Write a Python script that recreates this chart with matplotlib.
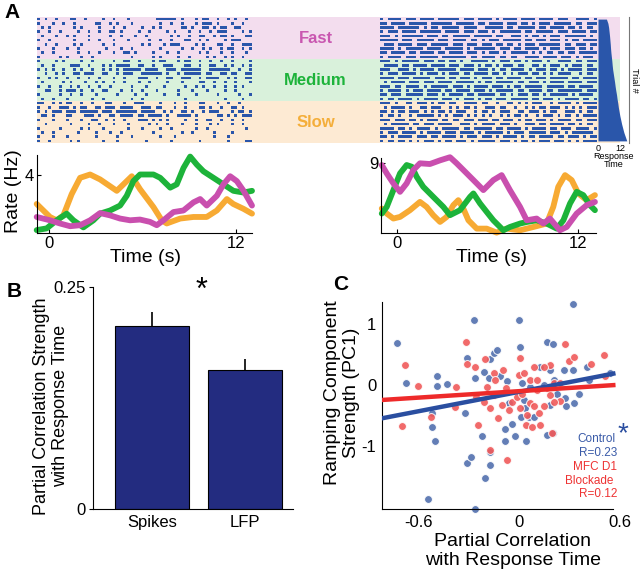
# Figura: raster, tasas de disparo, barras y dispersión
import numpy as np
import matplotlib.pyplot as plt

plt.rcParams['font.family'] = ['Liberation Sans', 'DejaVu Sans']

W, H = 640, 574

# ---------------- Datos ----------------
# Raster izquierdo (neurona 1): '#' = spike, 30 ensayos x 60 bins
rasterIzq = [
    "#.#..#...##..#....#..#...#.......######.#...#.##..#..#.#..#.",
    "#...#..#..#.....##..#.#...#.......#..#..#...#.###.#...#..#..",
    ".#.#......#.#....#...#..#....#..#.#.....##.#..##.#.##..##...",
    "#..#..#....#..#..#..##.#....#..#....#.#...#..#..#.###....#.#",
    ".#...#..#.#...#.....#..#...#..#......#.#..#..##..#.##.#...##",
    "#..#......#...#..#...#...#.....#..#..#...##..#.#....#.###...",
    "..#..#....#.#.....#..#.......#.#...#.###....#.#...##..#..###",
    "#...#...#..#.......#...#..#.......#.....#..#..#.#..#.##..#.#",
    ".#..#......#..#..#...#..##.#....#...#..#.....#.#...#..#...#.",
    "#.....#.#...#..#..........#.....#.#....#..#....#.#..#.#..#..",
    "#....#.#....#..#.....#..##..#...#.##...#.##..#..#..#..#....#",
    ".#..#....###..#...#.#.####..##..#..###...##..#..##..#.#..#.#",
    "#.#.#..#..#.#..#..#.#.#.#####.####..###.######..######..#..#",
    "..#..#.#..##.###..##..#.###..######.#..#.#####.##..##.##..##",
    "#..#.#..#..#..#..#...#..#...###..#..##..###..#.####..#.#..##",
    ".#.....#.#...#..#.#..#..#...#..#....#...#....##..#..#..#...#",
    "#..#..#..#.#..#..#..#.....#...#....#.....#..#.#..#..#..#.#..",
    "..##..#.###.#..#..##...#..#..#...#.....#...#...#....#..#....",
    "#.....#..#..#...#.....#....#..#....#...#....#.....#.....#..#.",
    ".#..#...#......#..#.......#..#...........#..........#....#..",
    "##..#.#.##..#..#...##...#..###....#...#..#...##...#..#..#...",
    "#..#..###.#.##..##.###.####..###.##...#..#...##.#..#..##.#..",
    "#.#.###.###.#####.###.######.####..#.#..##.#..#.###...#.##.#",
    ".##.#...##...###.#..##.####.##.####.#..####.#.....##.#.#.###",
    "#...#...#...#..##..#.#..#...###.#.#.#....#..#..##..#..#..#..",
    "..#......#....#..#...#...#.....#.#..#...#...#...#.#...#..#..",
    "#.....#.....#.#...#......#...#....#..#......#..#..........#.",
    ".#..#......#....#...#..#........#.......#..#.....#....#.....",
    "#...#...#.......#.....#...#.......#...#..........#...#......",
    "#..#.....#.#......#...#.......#......#.......#.......#....##",
]

# Raster derecho (neurona 2)
rasterDer = [
    "#.####.###.####.######.###.####.#.####.####.####.###..####.#",
    "##.####.#####.######.#####.##.####.###.##.#.###.#####.##.###",
    "####.######.#.##.#####.####..#####.##.#####.##.####.##.#.##.",
    "#.###.####.######.####.###.###.#.######.##.#####.###.####.##",
    "###.#.######.###.##.#####.#####.##..###.#.##.#.###.######.#.",
    "#####.###.#####.###.####.##.#.###.#####.##.###.###.#.##.####",
    ".###.####.###.#####.###.###.###.##.##.#.###.######.##.###.##",
    "####.#.#####.####.#####.#.######.###.##.####.#.###.###.##.#.",
    "##.####.##.####.##.####.###.#.###.#.#####.#.#.##.##.##.#####",
    "#.####.###.#####.#######.##.####.##.##..####.####.###.#.###.",
    "###.#.#####.###.##.##.#..#####.#.###.##.#.###.#..####.##.###",
    ".####.##.####.####.###.###.#.##.#.###.##..##.#.###.#.###.##.",
    "###..###.#.####.#####.####.###.#.##.####.#.###.##.#.####.###",
    "#.###.####.#.###.#.###.##.####.##.#.#.###.##.#.#.####..#.##.",
    "####.###.#####.###.##.###.#.###.##.####.##.###.#####.##.####",
    ".#.####.###.###.####.#####.#.##.#####.##.###.#.####.####.###",
    "###.##.####.#.#####.###.#.####.###.#.##.#####.#####.##.####.",
    "#.####.#.###.####.##.####.###.#.#####.##.####.##.#######.###",
    "##.###.#####.###.#.####.##.#####.##.#.###.##.#.#####.#.####.",
    "#.##.####.#.####.###.#.###.#.##.###.#####.##.###.#.####.##.#",
    "###.#..##.###.#.##.##..####.##..#..##.#.#.###..#.####.#.####",
    ".#.####.#..##.###..#.#.##.#..###.##..#..#.#.##.###.#.#.#.###",
    "##.#.##.###.#.#.##.#.###..#.##.#.###..##.###.#.##..###.#.##.",
    "#.##.#..#.#####.#.#.###.#.#.#.#..#.#.##.#..#.###.#.##.#.####",
    "###.###.##.#.###.##.##.###.###.##.###.#.##.###.#.####.##.###",
    ".#.#####.##.###.####..###.#.####.###.#..###.##.####.##.#.##.",
    "####.##.#.####.#.#####.##.#####.##.####.#.####.##.###.####.#",
    "#.###.####.#.####.###.####.#.#####.#.###.#####.###.#.######.",
    "##.#.####.###.##.####.#.###.###.#.####.#.##.####.##.###.#.##",
    "#.##.##.#.#.###.#.##.###.#.#####.###.#.##.#.###.###.#.#.####",
]

# Tiempo de respuesta por ensayo (s), ordenado
tiempoRespuesta = [4.6, 5.4, 5.8, 6.05, 6.3, 6.5, 6.7, 6.85, 7.05, 7.3,
                   7.55, 7.75, 8.0, 8.35, 8.7, 9.05, 9.35, 9.7, 10.1, 10.4,
                   10.8, 11.1, 11.5, 11.9, 12.4, 12.9, 13.5, 14.1, 14.9, 15.7]

categorias = ['Fast', 'Medium', 'Slow']

# Tasas de disparo, neurona 1
t1Rapido = [-0.79, 0.06, 0.7, 1.35, 1.99, 2.63, 3.27, 3.91, 4.55, 5.19, 5.83, 6.47,
            6.9, 7.33, 7.97, 8.61, 9.25, 9.68, 10.1, 10.75, 11.17, 11.6, 12.03, 12.46, 13.0]
r1Rapido = [1.11, 0.88, 0.66, 0.47, 0.54, 0.88, 1.38, 1.22, 1.0, 0.88, 0.93, 0.77,
            0.54, 0.88, 1.45, 1.56, 2.12, 2.35, 1.9, 2.58, 3.37, 3.93, 3.59, 2.92, 1.9]
t1Medio = [-0.79, -0.15, 0.49, 1.13, 1.56, 2.2, 2.84, 3.27, 3.91, 4.55, 4.98, 5.4, 5.83,
           6.69, 7.12, 7.76, 8.18, 8.61, 9.04, 9.47, 9.89, 10.53, 11.17, 11.81, 12.46, 13.0]
r1Medio = [0.2, 0.32, 0.88, 1.34, 0.88, 0.39, 0.88, 1.34, 1.56, 1.9, 2.58, 3.59, 4.05,
           4.05, 3.82, 3.14, 3.37, 4.5, 5.29, 4.73, 4.27, 3.82, 3.37, 2.92, 2.8, 2.92]
t1Lento = [-0.79, 0.06, 0.49, 0.92, 1.45, 1.99, 2.63, 3.27, 4.34, 5.3, 5.83, 6.69,
           7.22, 7.54, 8.4, 9.25, 10.1, 10.75, 11.39, 11.8, 12.46, 13.0]
r1Lento = [2.01, 1.11, 0.88, 1.22, 2.69, 3.82, 4.05, 3.71, 2.92, 3.93, 3.03, 1.79,
           0.88, 0.66, 1.0, 1.11, 1.11, 1.56, 2.35, 2.01, 1.67, 1.34]

# Tasas de disparo, neurona 2
t2Rapido = [-0.99, -0.66, -0.22, 0.22, 0.66, 1.1, 1.54, 2.2, 2.87, 3.53, 3.97, 4.64,
            5.3, 5.74, 6.4, 6.95, 7.5, 8.17, 8.61, 9.27, 9.71, 10.15, 10.81, 11.26,
            11.92, 12.58, 13.13]
r2Rapido = [8.7, 7.63, 6.35, 5.27, 6.35, 8.06, 8.92, 8.83, 9.3, 9.7, 8.92, 7.63,
            6.35, 5.49, 6.77, 7.41, 5.49, 3.34, 1.63, 1.85, 1.21, 1.85, 0.35, 0.77,
            2.49, 3.56, 3.98]
t2Medio = [-0.99, -0.66, -0.22, 0.22, 0.66, 1.0, 1.32, 1.76, 2.42, 3.09, 3.53, 4.19,
           4.86, 5.08, 5.52, 5.96, 6.4, 7.06, 7.5, 8.17, 8.61, 9.27, 9.93, 10.6,
           11.04, 11.48, 11.92, 12.36, 12.8, 13.13]
r2Medio = [2.49, 3.34, 5.49, 7.63, 8.7, 8.48, 7.2, 5.91, 4.63, 3.34, 2.28, 2.92,
           4.63, 5.06, 3.78, 2.7, 1.63, 0.35, 0.77, 1.21, 1.41, 1.63, 1.21, 0.56,
           1.63, 3.78, 5.27, 4.85, 3.56, 2.92]
t2Lento = [-0.99, -0.66, -0.22, 0.22, 0.88, 1.54, 1.98, 2.42, 2.87, 3.31, 3.75, 4.08,
           4.41, 4.75, 5.3, 5.96, 6.62, 7.28, 8.17, 9.05, 9.93, 10.37, 10.7, 11.15,
           11.59, 12.03, 12.58, 13.13]
r2Lento = [3.13, 2.49, 1.85, 2.06, 2.92, 3.98, 3.34, 2.28, 1.42, 2.06, 3.56, 4.2,
           3.13, 1.63, 0.56, 0.56, 0.05, 0.56, 0.35, 0.77, 1.21, 3.34, 5.91, 7.41,
           6.77, 5.06, 4.2, 4.85]

# Panel B
señales = ['Spikes', 'LFP']
correlacionParcial = [0.206, 0.157]
errorEstandar = [0.016, 0.012]

# Panel C
controlX = [-0.728, -0.679, -0.49, -0.49, -0.435, -0.52, -0.52, -0.504, -0.546, -0.272,
            -0.311, -0.268, -0.327, -0.315, -0.288, -0.268, -0.212, -0.183, -0.173, -0.222,
            -0.173, -0.173, -0.208, -0.153, -0.133, -0.113, -0.073, -0.089, -0.087, -0.044,
            -0.064, -0.004, 0.006, 0.016, 0.026, 0.036, -0.024, 0.04, 0.01, 0.058,
            0.085, 0.065, 0.125, 0.145, 0.165, 0.2, 0.185, 0.204, 0.185, 0.165,
            0.2, 0.224, 0.264, 0.274, 0.28, 0.317, 0.319, 0.353, 0.323, 0.403,
            0.413, 0.542]
controlY = [0.69, 0.03, 0.14, -0.02, 0.02, -0.45, -0.68, -0.91, -1.87, 1.06,
            0.44, 0.11, -0.46, -1.27, -1.18, -2.03, 0.22, 0.11, 0.42, -0.84,
            -1.09, -1.31, -1.52, 0.52, 0.57, 0.14, 0.07, -0.72, -0.91, -0.63,
            -0.30, 1.06, 0.63, 0.03, -0.25, -0.38, -0.83, -0.92, -0.52, -0.52,
            -0.52, -0.03, 0.30, 0.0, 0.71, 0.67, 0.25, 0.08, -0.33, -0.82,
            -0.79, -0.14, 0.25, -0.22, -0.35, 1.32, 0.25, -0.14, -0.30, 0.30,
            0.08, 0.19]
bloqueoX = [-0.698, -0.682, -0.605, -0.53, -0.381, -0.317, -0.311, -0.385, -0.268, -0.262,
            -0.248, -0.208, -0.192, -0.153, -0.212, -0.143, -0.173, -0.153, -0.097, -0.083,
            -0.127, -0.103, -0.044, -0.073, -0.014, 0.0, 0.002, 0.006, 0.016, 0.03,
            0.04, 0.065, 0.061, 0.085, 0.105, 0.105, 0.085, 0.117, 0.077, 0.145,
            0.165, 0.125, 0.185, 0.185, 0.204, 0.194, 0.244, 0.274, 0.244, 0.294,
            0.323, 0.427, 0.502, 0.508, -0.173, -0.064, 0.046, 0.145, 0.204]
bloqueoY = [-0.67, 0.33, -0.02, -0.52, -0.03, 0.70, 0.34, -0.36, 0.30, -0.19,
            -0.66, 0.42, -0.04, 0.19, -0.27, 0.08, -0.38, -0.16, 0.25, -0.05,
            -0.54, -0.33, -0.27, -1.23, -0.19, 0.16, 0.45, -0.38, -0.14, 0.19,
            -0.65, 0.08, -0.30, 0.30, 0.08, -0.08, -0.35, -0.46, -0.68, -0.35,
            -0.05, -0.65, 0.33, -0.16, 0.03, -0.79, 0.03, 0.67, -0.26, 0.40,
            0.46, 0.34, 0.49, 0.15, -1.06, -0.41, -0.49, 0.30, -0.27]
pendienteControl, interceptoControl = 0.53, -0.11
pendienteBloqueo, interceptoBloqueo = 0.176, -0.10

# ---------------- Estilo ----------------
colorSpike = '#2A56AA'
coloresFondo = ['#F3DDEE', '#D9F1DB', '#FDEAD3']
coloresTexto = ['#C957B0', '#1DB33A', '#F4AE3A']
colorRapido, colorMedio, colorLento = '#C94FAE', '#1DB33A', '#F7AA33'
colorBarra = '#232C80'
azulControl, rojoBloqueo = '#2A4EA0', '#EE2A2A'


def caja(x0, y0, x1, y1):
    return [x0 / W, 1 - y1 / H, (x1 - x0) / W, (y1 - y0) / H]


def pos(x, y):
    return x / W, 1 - y / H


def trazarRaster(ax, filas):
    for i, fila in enumerate(filas):
        tramos = []
        j = 0
        while j < len(fila):
            if fila[j] == '#':
                k = j
                while k < len(fila) and fila[k] == '#':
                    k += 1
                tramos.append((j + 0.1, k - j - 0.2))
                j = k
            else:
                j += 1
        ax.broken_barh(tramos, (i + 0.2, 0.6), facecolors=colorSpike)
    ax.set_xlim(0, 60)
    ax.set_ylim(len(filas), 0)
    ax.axis('off')


def trazarTasas(ax, curvas, xlim, ylim, ytick):
    for t, r, c in curvas:
        ax.plot(t, r, color=c, lw=4.2, solid_capstyle='round', solid_joinstyle='round',
                clip_on=False)
    ax.set_xlim(*xlim)
    ax.set_ylim(*ylim)
    ax.set_xticks([0, 12])
    ax.set_yticks([ytick])
    ax.tick_params(labelsize=12, length=3, direction='in', pad=2)
    for lado in ['top', 'right']:
        ax.spines[lado].set_visible(False)
    ax.spines['left'].set_bounds(0, ylim[1])


fig = plt.figure(figsize=(W / 100, H / 100), dpi=100)

# ---------------- Panel A ----------------
axFondo = fig.add_axes(caja(37, 17, 620, 143))
for i, c in enumerate(coloresFondo):
    axFondo.axhspan(i * 10, (i + 1) * 10, color=c, lw=0)
axFondo.set_xlim(0, 1)
axFondo.set_ylim(30, 0)
axFondo.axis('off')
for i, (nombre, c) in enumerate(zip(categorias, coloresTexto)):
    axFondo.text(0.478, i * 10 + 5.2, nombre, color=c, fontsize=12, fontweight='bold',
                 ha='center', va='center')

axR1 = fig.add_axes(caja(37, 17, 252, 143))
trazarRaster(axR1, rasterIzq)
axR2 = fig.add_axes(caja(380, 17, 597, 143))
trazarRaster(axR2, rasterDer)

axRT = fig.add_axes(caja(598, 17, 629, 143))
filas = np.arange(len(tiempoRespuesta)) + 0.5
axRT.fill_betweenx(filas, 0, tiempoRespuesta, color=colorSpike, lw=0)
axRT.set_xlim(0, 16.9)
axRT.set_ylim(len(tiempoRespuesta), 0)
axRT.patch.set_alpha(0)
for lado in ['top', 'left', 'bottom']:
    axRT.spines[lado].set_visible(False)
axRT.spines['right'].set_color('#777777')
axRT.spines['right'].set_linewidth(0.8)
axRT.set_yticks([])
axRT.set_xticks([0, 12])
axRT.tick_params(axis='x', length=0, labelsize=6.5, pad=1)
axRT.set_xlabel('Response\nTime', fontsize=6.5, labelpad=-1, linespacing=0.9)
axRT.yaxis.set_label_position('right')
axRT.set_ylabel('Trial #', fontsize=6.5, rotation=270, labelpad=7)

axT1 = fig.add_axes(caja(37, 155, 252, 233))
trazarTasas(axT1, [(t1Lento, r1Lento, colorLento), (t1Medio, r1Medio, colorMedio),
                   (t1Rapido, r1Rapido, colorRapido)], (-0.77, 13.0), (0, 5.4), 4)
axT2 = fig.add_axes(caja(381, 158, 596, 233))
trazarTasas(axT2, [(t2Lento, r2Lento, colorLento), (t2Medio, r2Medio, colorMedio),
                   (t2Rapido, r2Rapido, colorRapido)], (-1.04, 13.2), (0, 9.6), 9)

fig.text(*pos(146, 257), 'Time (s)', fontsize=14, ha='center', va='center')
fig.text(*pos(491, 257), 'Time (s)', fontsize=14, ha='center', va='center')
fig.text(*pos(14, 191), 'Rate (Hz)', fontsize=14, rotation=90, ha='center', va='center')

# ---------------- Panel B ----------------
axB = fig.add_axes(caja(93, 287, 293, 509))
xb = np.arange(1, len(señales) + 1)
axB.bar(xb, correlacionParcial, width=0.8, color=colorBarra, edgecolor='black', lw=0.8,
        yerr=[[0] * len(errorEstandar), errorEstandar], error_kw=dict(ecolor='black', lw=1.2, capsize=0))
axB.set_xlim(0.362, 2.524)
axB.set_ylim(0, 0.25)
axB.set_xticks(xb)
axB.set_xticklabels(señales)
axB.set_yticks([0, 0.25])
axB.set_yticklabels(['0', '0.25'])
axB.tick_params(axis='x', length=0, labelsize=12, pad=4)
axB.tick_params(axis='y', length=3, labelsize=12, pad=2)
for lado in ['top', 'right']:
    axB.spines[lado].set_visible(False)
fig.text(*pos(51, 406), 'Partial Correlation Strength\nwith Response Time', fontsize=13,
         rotation=90, ha='center', va='center')
fig.text(*pos(202, 291), '*', fontsize=22, ha='center', va='center')

# ---------------- Panel C ----------------
axC = fig.add_axes(caja(382, 302, 620, 509))
axC.scatter(controlX, controlY, s=32, color='#5B77B2', edgecolors='white', linewidths=0.7,
            alpha=0.95, zorder=2, clip_on=False)
axC.scatter(bloqueoX, bloqueoY, s=32, color='#F05A5A', edgecolors='white', linewidths=0.7,
            alpha=0.9, zorder=3, clip_on=False)
xr = np.array([-0.82, 0.56])
axC.plot(xr, pendienteControl * xr + interceptoControl, color=azulControl, lw=3.2, zorder=4)
axC.plot(xr, pendienteBloqueo * xr + interceptoBloqueo, color=rojoBloqueo, lw=3.2, zorder=5)
axC.set_xlim(-0.82, 0.6)
axC.set_ylim(-2.03, 1.36)
axC.set_xticks([-0.6, 0, 0.6])
axC.set_xticklabels(['-0.6', '0', '0.6'])
axC.set_yticks([-1, 0, 1])
axC.set_yticklabels(['-1', '0', '1'])
axC.tick_params(length=0, labelsize=12, pad=4)
for lado in ['top', 'right']:
    axC.spines[lado].set_visible(False)
axC.spines['bottom'].set_bounds(-0.82, 0.56)
fig.text(*pos(513, 551), 'Partial Correlation\nwith Response Time', fontsize=14,
         ha='center', va='center')
fig.text(*pos(342, 393), 'Ramping Component\nStrength (PC1)', fontsize=14,
         rotation=90, ha='center', va='center')
fig.text(*pos(615, 439), 'Control', fontsize=8.5, color='#3A5BA8', ha='right', va='center')
fig.text(*pos(617, 453), 'R=0.23', fontsize=8.5, color='#3A5BA8', ha='right', va='center')
fig.text(*pos(617, 467), 'MFC D1', fontsize=8.5, color='#EE3333', ha='right', va='center')
fig.text(*pos(613, 481), 'Blockade', fontsize=8.5, color='#EE3333', ha='right', va='center')
fig.text(*pos(617, 494), 'R=0.12', fontsize=8.5, color='#EE3333', ha='right', va='center')
fig.text(*pos(623, 434), '*', fontsize=20, color=azulControl, ha='center', va='center')

# Letras de panel
fig.text(*pos(12, 13), 'A', fontsize=15, fontweight='bold', ha='center', va='center')
fig.text(*pos(14, 291), 'B', fontsize=15, fontweight='bold', ha='center', va='center')
fig.text(*pos(341, 285), 'C', fontsize=15, fontweight='bold', ha='center', va='center')

fig.savefig('out.png', dpi=100)
